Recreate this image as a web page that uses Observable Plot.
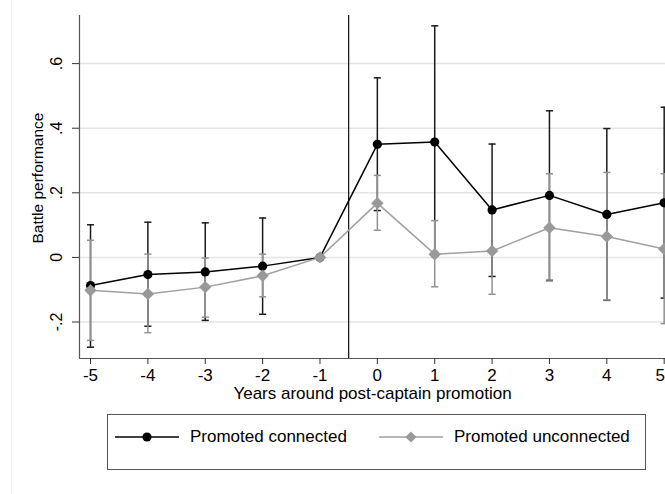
<!DOCTYPE html>
<html>
<head>
<meta charset="utf-8">
<script src="https://cdn.jsdelivr.net/npm/d3@7"></script>
<script src="https://cdn.jsdelivr.net/npm/@observablehq/plot@0.6"></script>
<style>
  html, body { margin: 0; padding: 0; background: #fff; overflow: hidden; }
  #wrap { position: relative; width: 665px; height: 494px; font-family: "Liberation Sans", Arial, sans-serif; }
  #edge { position: absolute; left: 11px; top: 0; width: 1px; height: 494px; background: #efefef; }
  #chart { position: absolute; left: 0; top: 0; }
  #legend { position: absolute; left: 107px; top: 414px; width: 537px; height: 54px; border: 1px solid #555; box-sizing: content-box; }
  .item { position: absolute; top: 12px; display: flex; align-items: center; font-size: 17px; color: #000; white-space: nowrap; }
  .item svg { margin-right: 11px; }
</style>
</head>
<body>
<div id="wrap">
  <div id="edge"></div>
  <div id="chart"></div>
  <div id="legend"></div>
</div>
<script>
// ---- data ----
const years = [-5, -4, -3, -2, -1, 0, 1, 2, 3, 4, 5];
const connEst = [-0.087, -0.053, -0.045, -0.027, 0, 0.350, 0.357, 0.147, 0.192, 0.133, 0.169];
const connLo  = [-0.278, -0.213, -0.195, -0.176, null, 0.145, 0.003, -0.059, -0.071, -0.133, -0.126];
const connHi  = [0.101, 0.109, 0.107, 0.122, null, 0.556, 0.717, 0.351, 0.454, 0.399, 0.465];
const unconnEst = [-0.102, -0.113, -0.092, -0.057, 0, 0.168, 0.010, 0.020, 0.092, 0.065, 0.026];
const unconnLo  = [-0.257, -0.233, -0.185, -0.122, null, 0.084, -0.091, -0.114, -0.073, -0.132, -0.205];
const unconnHi  = [0.053, 0.010, -0.002, 0.010, null, 0.254, 0.114, 0.153, 0.259, 0.263, 0.259];
const yTicks = [-0.2, 0, 0.2, 0.4, 0.6];
const xTicks = years;
const seriesNames = ["Promoted connected", "Promoted unconnected"];
const promotionLine = [-0.5];

const conn = years.map((x, i) => ({x, y: connEst[i], lo: connLo[i], hi: connHi[i]}));
const unconn = years.map((x, i) => ({x, y: unconnEst[i], lo: unconnLo[i], hi: unconnHi[i]}));
const connBars = conn.filter(d => d.lo != null);
const unconnBars = unconn.filter(d => d.lo != null);

const xDomain = [-5.192, 5.023];
const yDomain = [-0.313, 0.749];
const capW = 0.062;

const black = "#000";
const barBlack = "#1a1a1a";
const grayLine = "#a0a0a0";
const grayBar = "#919191";
const grayMark = "#999999";

function bars(data, stroke) {
  return [
    Plot.ruleX(data, {x: "x", y1: "lo", y2: "hi", stroke, strokeWidth: 1.5}),
    Plot.link(data, {x1: d => d.x - capW, x2: d => d.x + capW, y1: "hi", y2: "hi", stroke, strokeWidth: 1.5}),
    Plot.link(data, {x1: d => d.x - capW, x2: d => d.x + capW, y1: "lo", y2: "lo", stroke, strokeWidth: 1.5})
  ];
}

const fmtY = d => d === 0 ? "0" : (d < 0 ? "-" : "") + String(Math.abs(d)).replace(/^0/, "");

const plot = Plot.plot({
  width: 665,
  height: 405,
  marginTop: 15,
  marginBottom: 47,
  marginLeft: 79,
  marginRight: 0,
  style: {fontFamily: "'Liberation Sans', Arial, sans-serif", fontSize: "15px", color: "#000", background: "transparent", overflow: "hidden"},
  x: {domain: xDomain},
  y: {domain: yDomain},
  marks: [
    Plot.gridY(yTicks, {stroke: "#e4e4e4", strokeOpacity: 1, strokeWidth: 1.5}),
    Plot.ruleX(promotionLine, {stroke: "#111", strokeWidth: 1.2}),
    ...bars(connBars, barBlack),
    ...bars(unconnBars, grayBar),
    Plot.line(conn, {x: "x", y: "y", stroke: black, strokeWidth: 1.5}),
    Plot.dot(conn, {x: "x", y: "y", r: 4.6, fill: black, stroke: null}),
    Plot.line(unconn, {x: "x", y: "y", stroke: grayLine, strokeWidth: 1.5}),
    Plot.dot(unconn, {x: "x", y: "y", symbol: "diamond2", r: 5.6, fill: grayMark, stroke: null}),
    Plot.ruleX([xDomain[0]], {stroke: "#555", strokeWidth: 1.2}),
    Plot.ruleY([yDomain[0]], {stroke: "#555", strokeWidth: 1.2}),
    Plot.axisY(yTicks, {
      tickFormat: fmtY, tickRotate: -90, tickSize: 7, tickPadding: 11, stroke: "#333",
      fontSize: 16, label: "Battle performance", labelArrow: false, labelAnchor: "center", labelOffset: 48
    }),
    Plot.axisX(xTicks, {
      tickFormat: d => String(d), tickSize: 6, tickPadding: 4, stroke: "#333",
      fontSize: 17, label: "Years around post-captain promotion", labelArrow: false, labelAnchor: "center", labelOffset: 40
    })
  ]
});
plot.querySelectorAll("[aria-label='y-axis label'] text").forEach(t => {
  t.setAttribute("font-size", "15.5");
  t.setAttribute("dx", "9");
});
plot.querySelectorAll("[aria-label='x-axis label'] text").forEach(t => t.setAttribute("font-size", "17"));
// keep the last x tick label ("5") inside the frame, as far right as the reference shows it
const xTickTexts = plot.querySelectorAll("[aria-label='x-axis tick label'] text");
if (xTickTexts.length) {
  const last = xTickTexts[xTickTexts.length - 1];
  last.setAttribute("text-anchor", "end");
  last.setAttribute("dx", "0.05em");
}
document.getElementById("chart").appendChild(plot);

// ---- legend ----
const legend = document.getElementById("legend");
const legendItems = [
  {name: seriesNames[0], left: 7, stroke: black, fill: black, symbol: "circle"},
  {name: seriesNames[1], left: 271, stroke: grayLine, fill: grayMark, symbol: "diamond"}
];
legendItems.forEach(it => {
  const div = document.createElement("div");
  div.className = "item";
  div.style.left = it.left + "px";
  const svg = d3.create("svg").attr("width", 64).attr("height", 20);
  svg.append("line").attr("x1", 0).attr("x2", 64).attr("y1", 10).attr("y2", 10)
    .attr("stroke", it.stroke).attr("stroke-width", 1.5);
  if (it.symbol === "circle") {
    svg.append("circle").attr("cx", 32).attr("cy", 10).attr("r", 4.6).attr("fill", it.fill);
  } else {
    svg.append("path").attr("d", "M32,4.4L37.6,10L32,15.6L26.4,10Z").attr("fill", it.fill);
  }
  div.appendChild(svg.node());
  const span = document.createElement("span");
  span.textContent = it.name;
  div.appendChild(span);
  legend.appendChild(div);
});
</script>
</body>
</html>
